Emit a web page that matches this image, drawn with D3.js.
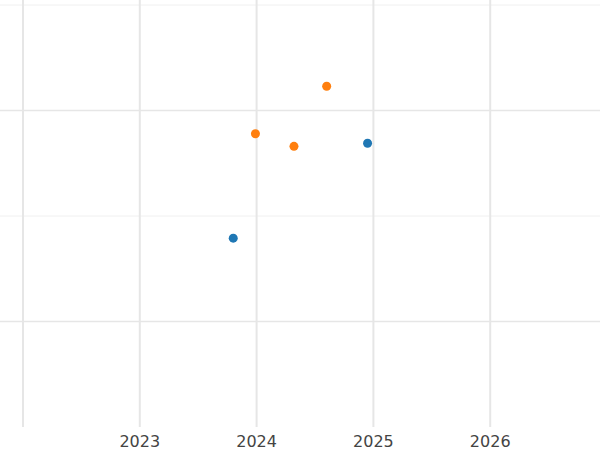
<!DOCTYPE html>
<html><head><meta charset="utf-8">
<script src="https://cdn.jsdelivr.net/npm/d3@7"></script>
<style>body{margin:0;background:#fff}</style>
</head><body>
<svg id="c" width="600" height="450"></svg>
<script>
// data (x in decimal years)
var blueX = [2023.8, 2024.95]
var blueY = [1.79, 2.69]
var orangeX = [2023.99, 2024.32, 2024.6]
var orangeY = [2.78, 2.66, 3.23]
var xTicks = [2023, 2024, 2025, 2026]
var xGrid = [2022, 2023, 2024, 2025, 2026]
var yMajor = [1, 3]
var yMinor = [2, 4]

var svg = d3.select("#c")
var x = d3.scaleLinear().domain([2022, 2026.94]).range([23, 600])
var y = d3.scaleLinear().domain([0, 4]).range([427, 5])

svg.selectAll(".ym").data(yMinor).enter().append("line")
    .attr("x1", 0).attr("x2", 600)
    .attr("y1", function(d){ return y(d) }).attr("y2", function(d){ return y(d) })
    .attr("stroke", "#f0f0f0").attr("stroke-width", 1)
svg.selectAll(".yM").data(yMajor).enter().append("line")
    .attr("x1", 0).attr("x2", 600)
    .attr("y1", function(d){ return y(d) }).attr("y2", function(d){ return y(d) })
    .attr("stroke", "#e6e6e6").attr("stroke-width", 1.5)
svg.selectAll(".xg").data(xGrid).enter().append("line")
    .attr("x1", function(d){ return x(d) }).attr("x2", function(d){ return x(d) })
    .attr("y1", 0).attr("y2", 427)
    .attr("stroke", "#e6e6e6").attr("stroke-width", 2)

svg.selectAll(".xt").data(xTicks).enter().append("text")
    .attr("x", function(d){ return x(d) }).attr("y", 447)
    .attr("text-anchor", "middle")
    .attr("font-family", "DejaVu Sans").attr("font-size", 16).attr("fill", "#444")
    .text(function(d){ return d })

function dots(xs, ys, col) {
    svg.append("g").selectAll("circle").data(xs).enter().append("circle")
        .attr("cx", function(d){ return x(d) })
        .attr("cy", function(d, i){ return y(ys[i]) })
        .attr("r", 4.5).attr("fill", col)
}
dots(blueX, blueY, "#1f77b4")
dots(orangeX, orangeY, "#ff7f0e")
</script>
</body></html>
